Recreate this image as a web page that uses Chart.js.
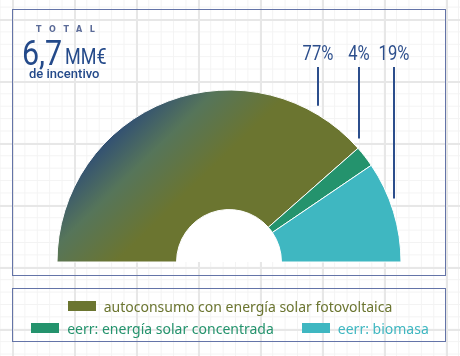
<!DOCTYPE html>
<html><head><meta charset="utf-8">
<script src="https://cdn.jsdelivr.net/npm/chart.js@4/dist/chart.umd.min.js"></script>
<style>
html,body{margin:0;padding:0;}
body{width:460px;height:356px;position:relative;overflow:hidden;background-color:#fff;
background-image:
 linear-gradient(to right,#e7e7e7 2px,transparent 2px),
 linear-gradient(to bottom,#e7e7e7 2px,transparent 2px),
 linear-gradient(to right,#f3f3f3 1px,transparent 1px),
 linear-gradient(to bottom,#f3f3f3 1px,transparent 1px);
background-size:62px 62px,62px 62px,12.4px 12.4px,12.4px 12.4px;
background-position:12px 0,0 19px,12px 0,0 19px;}
#c{position:absolute;left:0;top:0;}
.box{position:absolute;left:12px;width:434px;border:1.5px solid #6474a8;box-sizing:border-box;}
#chartbox{top:9px;height:267px;}
#legbox{top:288px;height:54px;}
.t{position:absolute;white-space:nowrap;color:#244a8a;line-height:1;transform-origin:0 0;}
#t1{left:36px;top:25px;font:bold 8px "DejaVu Sans",sans-serif;letter-spacing:7.6px;color:#5b6b98;}
#t2a{left:22px;top:32.5px;font:400 35px Roboto,sans-serif;transform:scaleX(0.87);}
#t2b{left:65px;top:43px;font:400 22.5px Roboto,sans-serif;transform:scaleX(0.8);}
#t3{left:29px;top:66px;font:500 13px Roboto,sans-serif;}
#legend{position:absolute;left:0;top:295px;width:460px;font:14px "Noto Sans",sans-serif;}
.row{display:flex;justify-content:center;gap:28px;height:22px;align-items:center;}
.item{display:flex;align-items:center;white-space:nowrap;}
.sw{width:28px;height:10px;margin-right:8px;}
</style></head>
<body>
<div class="box" id="chartbox"></div>
<div class="box" id="legbox"></div>
<canvas id="c" width="460" height="356"></canvas>
<div class="t" id="t1">TOTAL</div>
<div class="t" id="t2a">6,7</div>
<div class="t" id="t2b">MM€</div>
<div class="t" id="t3">de incentivo</div>
<div id="legend"></div>
<script>
const categories = ["autoconsumo con energía solar fotovoltaica","eerr: energía solar concentrada","eerr: biomasa"];
const values = [77, 4, 19];
const valueLabels = ["77%","4%","19%"];
const colors = ["#6b7530","#24936d","#3fb7c1"];
const legendRows = [[0],[1,2]];

const R = 172;
function olive(ctx){
  const chart = ctx.chart; const a = chart.chartArea;
  if(!a) return colors[0];
  const cx = (a.left+a.right)/2, cy = a.top + a.height/2 + R/2;
  const g = chart.ctx.createLinearGradient(cx-R*0.75, cy-R*0.77, cx-R*0.32, cy-R*0.33);
  g.addColorStop(0,"#27457a");
  g.addColorStop(0.5,"#56755a");
  g.addColorStop(1,colors[0]);
  return g;
}

const labelPlugin = {
  id:'labelPlugin',
  beforeDatasetsDraw(chart){
    const arc = chart.getDatasetMeta(0).data[0];
    const c = chart.ctx;
    c.save(); c.fillStyle="#fff"; c.beginPath();
    c.arc(arc.x, arc.y, arc.innerRadius, Math.PI, 2*Math.PI); c.closePath(); c.fill(); c.restore();
  },
  afterDatasetsDraw(chart, args, opts){
    const meta = chart.getDatasetMeta(0);
    const c = chart.ctx;
    c.save();
    c.strokeStyle = opts.color; c.fillStyle = opts.color; c.lineWidth = 2;
    c.font = '400 19.5px Roboto,sans-serif';
    c.textAlign='center'; c.textBaseline='alphabetic';
    meta.data.forEach((arc,i)=>{
      const x = opts.anchorX[i];
      const dx = x-arc.x;
      const yArc = arc.y - Math.sqrt(arc.outerRadius*arc.outerRadius - dx*dx);
      c.beginPath(); c.moveTo(x, opts.lineTop); c.lineTo(x, yArc - opts.gap[i]); c.stroke();
      c.save(); c.translate(x, opts.textY); c.scale(0.85,1);
      c.fillText(valueLabels[i], 0, 0); c.restore();
    });
    c.restore();
  }
};

new Chart(document.getElementById('c'),{
  type:'doughnut',
  data:{labels:categories,datasets:[{data:values,
    backgroundColor:(ctx)=> ctx.dataIndex===0 ? olive(ctx) : colors[ctx.dataIndex],
    borderColor:'#ffffff',borderWidth:1}]},
  options:{
    responsive:false,animation:false,
    rotation:-90,circumference:180,radius:R,cutout:'30.5%',
    layout:{padding:{left:0,right:2,top:0,bottom:4}},
    plugins:{legend:{display:false},tooltip:{enabled:false},
      labelPlugin:{color:'#2c4e8c',anchorX:[318,359,394],gap:[9,11,15],lineTop:67,textY:59.5}}
  },
  plugins:[labelPlugin]
});

const leg = document.getElementById('legend');
legendRows.forEach(r=>{
  const row=document.createElement('div'); row.className='row';
  r.forEach(i=>{
    const it=document.createElement('div'); it.className='item';
    const sw=document.createElement('span'); sw.className='sw'; sw.style.background=colors[i];
    const tx=document.createElement('span'); tx.textContent=categories[i]; tx.style.color=colors[i];
    it.appendChild(sw); it.appendChild(tx); row.appendChild(it);
  });
  leg.appendChild(row);
});
</script>
</body></html>
